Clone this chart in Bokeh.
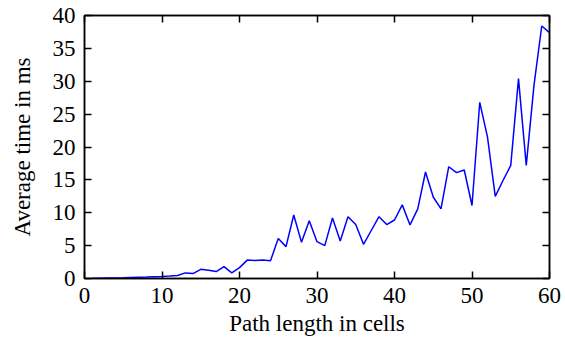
from bokeh.plotting import figure
from bokeh.models import Range1d, LinearAxis, FixedTicker
from bokeh.embed import file_html
from bokeh.resources import INLINE

path_length = list(range(1, 61))
avg_time_ms = [
    0.02, 0.04, 0.06, 0.08, 0.10, 0.14, 0.18, 0.22, 0.27, 0.32,
    0.38, 0.45, 0.85, 0.75, 1.40, 1.25, 1.05, 1.80, 0.85, 1.65,
    2.80, 2.75, 2.80, 2.70, 6.10, 4.85, 9.65, 5.50, 8.80, 5.60,
    5.00, 9.20, 5.70, 9.40, 8.20, 5.20, 7.30, 9.40, 8.20, 8.90,
    11.20, 8.15, 10.60, 16.20, 12.40, 10.60, 17.00, 16.10, 16.50, 11.10,
    26.80, 21.50, 12.50, 14.90, 17.20, 30.40, 17.20, 29.40, 38.40, 37.40,
]
x_ticks = [0, 10, 20, 30, 40, 50, 60]
y_ticks = [0, 5, 10, 15, 20, 25, 30, 35, 40]

FONT = "Liberation Serif"

p = figure(width=565, height=339, output_backend="svg", toolbar_location=None,
           x_range=Range1d(0, 60), y_range=Range1d(0, 40),
           min_border_left=84, min_border_right=16, min_border_top=15, min_border_bottom=61)
p.xgrid.visible = False
p.ygrid.visible = False
p.outline_line_color = "black"
p.outline_line_width = 1.5
p.background_fill_color = "white"
p.border_fill_color = "white"

p.line(path_length, avg_time_ms, line_color="#0000ff", line_width=1.5)

def style(ax, ticks, show_labels):
    ax.ticker = FixedTicker(ticks=ticks)
    ax.major_tick_in = 7
    ax.major_tick_out = 0
    ax.minor_tick_line_color = None
    ax.axis_line_color = "black"
    ax.axis_line_width = 1.5
    ax.major_tick_line_color = "black"
    ax.major_tick_line_width = 1.5
    ax.major_label_text_font = FONT
    ax.major_label_text_color = "black"
    ax.axis_label_text_font = FONT
    ax.axis_label_text_font_style = "normal"
    ax.axis_label_text_color = "black"
    ax.major_label_text_font_size = "23px"
    ax.axis_label_text_font_size = "23px"
    if not show_labels:
        ax.major_label_overrides = {t: "" for t in ticks}
        ax.major_label_standoff = 0

xa = p.xaxis[0]
ya = p.yaxis[0]
style(xa, x_ticks, True)
style(ya, y_ticks, True)
xa.axis_label = "Path length in cells"
ya.axis_label = "Average time in ms"
xa.major_label_standoff = 9
ya.major_label_standoff = 9
xa.axis_label_standoff = 5
ya.axis_label_standoff = 15

top = LinearAxis()
style(top, x_ticks, False)
p.add_layout(top, "above")
right = LinearAxis()
style(right, y_ticks, False)
p.add_layout(right, "right")

open("out.html", "w").write(file_html(p, INLINE))
